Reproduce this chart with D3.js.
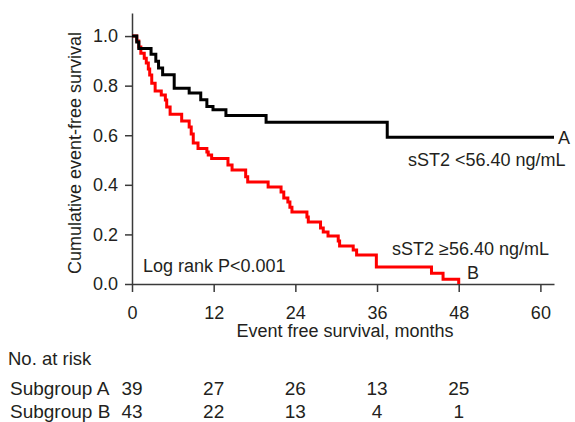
<!DOCTYPE html>
<html>
<head>
<meta charset="utf-8">
<script src="https://cdn.jsdelivr.net/npm/d3@7"></script>
<style>
    body { margin: 0; background: #fff; }
    text { font-family: "Liberation Sans", Arial, Helvetica, sans-serif; fill: #231f20; }
    .axis path, .axis line { stroke: #3a3a3a; stroke-width: 1.5; }
    .axis text { font-size: 18px; }
</style>
</head>
<body>
<svg id="plotSVG" width="575" height="422"></svg>
<script>
// survival curve, subgroup A (sST2 < 56.40)
const timesA = [0, 0.7, 1.0, 2.8, 3.5, 3.9, 4.5, 6.2, 8.4, 10.1, 11.0, 11.9, 13.8, 19.7, 37.5, 62];
const survA = [1.0, 0.976, 0.950, 0.927, 0.898, 0.871, 0.844, 0.790, 0.770, 0.743, 0.716, 0.703, 0.680, 0.652, 0.592, 0.592];

// survival curve, subgroup B (sST2 >= 56.40)
const timesB = [0, 0.7, 1.0, 1.3, 1.8, 2.1, 2.4, 2.6, 2.9, 3.4, 4.3, 4.9, 5.1, 5.6, 7.3, 8.4, 8.7, 9.0, 9.7, 11.0,
    11.2, 11.7, 14.1, 14.7, 16.7, 17.0, 20.0, 21.9, 22.3, 22.9, 23.2, 23.5, 25.7, 25.9, 27.7, 28.1, 28.8, 30.3, 30.5, 32.5,
    33.0, 35.9, 44.0, 45.7, 48.0];
const survB = [1.0, 0.980, 0.956, 0.931, 0.911, 0.891, 0.867, 0.843, 0.810, 0.778, 0.762, 0.742, 0.714, 0.685, 0.657, 0.633, 0.605, 0.569, 0.547, 0.532,
    0.520, 0.506, 0.480, 0.460, 0.433, 0.411, 0.391, 0.371, 0.347, 0.331, 0.310, 0.290, 0.270, 0.250, 0.226, 0.210, 0.194, 0.173, 0.153, 0.137,
    0.117, 0.069, 0.043, 0.019, 0.0];

// axis ticks
const xTicks = [0, 12, 24, 36, 48, 60];
const yTicks = [0, 0.2, 0.4, 0.6, 0.8, 1.0];

// number at risk table
const riskTimes = [0, 12, 24, 36, 48];
const riskA = [39, 27, 26, 13, 25];
const riskB = [43, 22, 13, 4, 1];

let svgPlot = d3.select('#plotSVG');

// x and y scales
let xScale = d3.scaleLinear()
    .domain([0, 62])
    .range([132, 554]);

let yScale = d3.scaleLinear()
    .domain([0, 1.093])
    .range([284, 13]);

// axises
let xAxis = d3.axisBottom()
    .scale(xScale)
    .tickValues(xTicks)
    .tickSize(8)
    .tickSizeOuter(0)
    .tickPadding(14);

svgPlot.append('g')
    .attr('class', 'axis')
    .attr('transform', 'translate(0,284)')
    .call(xAxis);

let yAxis = d3.axisLeft()
    .scale(yScale)
    .tickValues(yTicks)
    .tickFormat(d3.format('.1f'))
    .tickSize(7)
    .tickSizeOuter(0)
    .tickPadding(7);

svgPlot.append('g')
    .attr('class', 'axis')
    .attr('transform', 'translate(132,0)')
    .call(yAxis);

// step lines
let stepLine = d3.line()
    .x(d => xScale(d[0]))
    .y(d => yScale(d[1]))
    .curve(d3.curveStepAfter);

svgPlot.append('path')
    .datum(d3.zip(timesB, survB))
    .attr('d', stepLine)
    .attr('fill', 'none')
    .attr('stroke', '#ff0000')
    .attr('stroke-width', 3);

svgPlot.append('path')
    .datum(d3.zip(timesA, survA))
    .attr('d', stepLine)
    .attr('fill', 'none')
    .attr('stroke', '#000000')
    .attr('stroke-width', 3);

// axis titles
svgPlot.append('text')
    .attr('transform', 'translate(81,153) rotate(-90)')
    .attr('text-anchor', 'middle')
    .style('font-size', '18px')
    .text('Cumulative event-free survival');

svgPlot.append('text')
    .attr('x', 345)
    .attr('y', 337)
    .attr('text-anchor', 'middle')
    .style('font-size', '18px')
    .text('Event free survival, months');

// curve labels
svgPlot.append('text')
    .attr('x', 558)
    .attr('y', 144)
    .style('font-size', '18px')
    .text('A');

svgPlot.append('text')
    .attr('x', 408)
    .attr('y', 166)
    .style('font-size', '18px')
    .text('sST2 <56.40 ng/mL');

svgPlot.append('text')
    .attr('x', 392)
    .attr('y', 255)
    .style('font-size', '18px')
    .text('sST2 \u226556.40 ng/mL');

svgPlot.append('text')
    .attr('x', 467)
    .attr('y', 279)
    .style('font-size', '18px')
    .text('B');

svgPlot.append('text')
    .attr('x', 143)
    .attr('y', 272)
    .style('font-size', '18px')
    .text('Log rank P<0.001');

// number at risk
svgPlot.append('text')
    .attr('x', 8)
    .attr('y', 365)
    .style('font-size', '18.5px')
    .text('No. at risk');

let rows = [{ name: 'Subgroup A', vals: riskA, y: 395 }, { name: 'Subgroup B', vals: riskB, y: 418 }];

rows.forEach(r => {
    svgPlot.append('text')
        .attr('x', 10)
        .attr('y', r.y)
        .style('font-size', '19px')
        .text(r.name);

    svgPlot.selectAll(null)
        .data(r.vals)
        .enter()
        .append('text')
        .attr('x', (d, i) => xScale(riskTimes[i]))
        .attr('y', r.y)
        .attr('text-anchor', 'middle')
        .style('font-size', '19px')
        .text(d => d);
});
</script>
</body>
</html>
